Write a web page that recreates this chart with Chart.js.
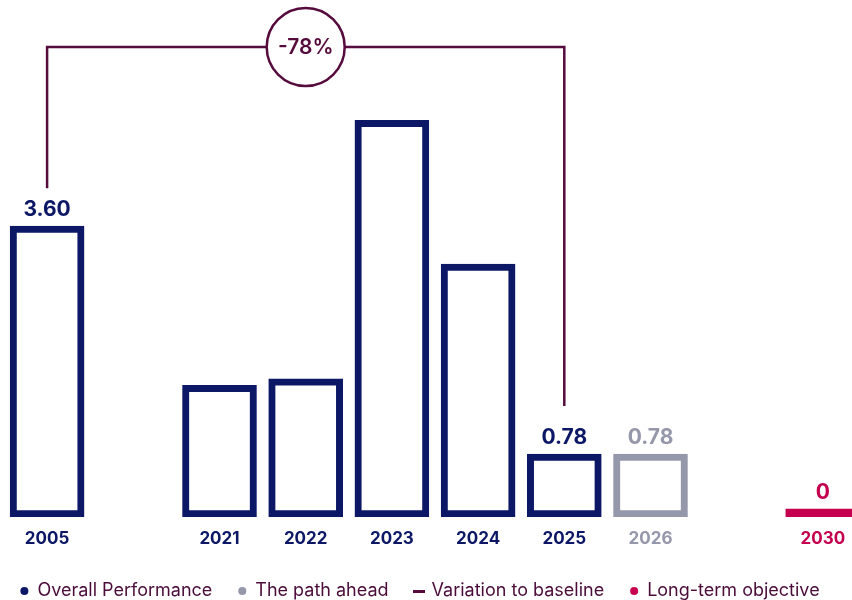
<!DOCTYPE html>
<html>
<head>
<meta charset="utf-8">
<script src="https://cdn.jsdelivr.net/npm/chart.js@4.4.1/dist/chart.umd.min.js"></script>
<style>
  html, body { margin: 0; padding: 0; background: #fff; }
  #wrap { position: relative; width: 852px; height: 600px; overflow: hidden; }
  #chart { position: absolute; left: -26px; top: 0; }
</style>
</head>
<body>
<div id="wrap"><canvas id="chart" width="892" height="600"></canvas></div>
<script>
// empty strings are the spacer slots between 2005 / 2021 and 2026 / 2030
const categories = ['2005', '', '2021', '2022', '2023', '2024', '2025', '2026', '', '2030'];
const overallPerformance = [3.60, null, 1.63, 1.71, 4.91, 3.13, 0.78, null, null, null];
const pathAhead = [null, null, null, null, null, null, null, 0.78, null, null];
const longTermObjective = [null, null, null, null, null, null, null, null, null, 0];
const baselineVariation = [3.60, null, null, null, null, null, 0.78, null, null, null];
const labelledYears = ['2005', '2025', '2026', '2030'];

const NAVY = '#0c1866';
const GREY = '#9597aa';
const CRIMSON = '#c4004f';
const PLUM = '#560b3d';
const TEXT = '#4b0c39';

const tickColors = categories.map((c, i) => {
  if (overallPerformance[i] != null) return NAVY;
  if (pathAhead[i] != null) return GREY;
  if (longTermObjective[i] != null) return CRIMSON;
  return NAVY;
});

Chart.defaults.font.family = 'Inter';

// small dash used as the legend marker of the bracket
const dash = document.createElement('canvas');
dash.width = 12;
dash.height = 3;
const dctx = dash.getContext('2d');
dctx.fillStyle = PLUM;
dctx.fillRect(0, 0, 12, 3);

const valueLabels = {
  id: 'valueLabels',
  afterDatasetsDraw(chart) {
    const ctx = chart.ctx;
    ctx.save();
    ctx.font = '700 21px Inter';
    ctx.textAlign = 'center';
    ctx.textBaseline = 'alphabetic';
    chart.data.datasets.forEach((ds, di) => {
      if (ds.type === 'line') return;
      const meta = chart.getDatasetMeta(di);
      meta.data.forEach((bar, i) => {
        const v = ds.data[i];
        if (v == null || !labelledYears.includes(categories[i])) return;
        ctx.fillStyle = ds.borderWidth ? ds.borderColor : ds.backgroundColor;
        const top = Math.min(bar.y, bar.base);
        ctx.fillText(v === 0 ? '0' : v.toFixed(2), bar.x, top - 10);
      });
    });
    ctx.restore();
  }
};

const variationBracket = {
  id: 'variationBracket',
  afterDatasetsDraw(chart) {
    const di = chart.data.datasets.findIndex(d => d.type === 'line');
    const meta = chart.getDatasetMeta(di);
    const idx = baselineVariation.map((v, i) => (v != null ? i : -1)).filter(i => i >= 0);
    const a = meta.data[idx[0]];
    const b = meta.data[idx[idx.length - 1]];
    const first = baselineVariation[idx[0]];
    const last = baselineVariation[idx[idx.length - 1]];
    const pct = Math.round((last - first) / first * 100);
    const ctx = chart.ctx;
    const lineY = chart.chartArea.top + 47;
    ctx.save();
    ctx.strokeStyle = PLUM;
    ctx.lineWidth = 2.5;
    ctx.beginPath();
    ctx.moveTo(a.x, a.y - 38);
    ctx.lineTo(a.x, lineY);
    ctx.lineTo(b.x, lineY);
    ctx.lineTo(b.x, b.y - 48);
    ctx.stroke();
    const cx = (a.x + b.x) / 2;
    ctx.beginPath();
    ctx.arc(cx, lineY, 39, 0, Math.PI * 2);
    ctx.fillStyle = '#fff';
    ctx.fill();
    ctx.stroke();
    ctx.fillStyle = PLUM;
    ctx.font = '600 21px Inter';
    ctx.textAlign = 'center';
    ctx.textBaseline = 'middle';
    ctx.fillText(pct + '%', cx, lineY + 1);
    ctx.restore();
  }
};

new Chart(document.getElementById('chart'), {
  type: 'bar',
  data: {
    labels: categories,
    datasets: [
      {
        label: 'Overall Performance',
        data: overallPerformance,
        backgroundColor: '#ffffff',
        borderColor: NAVY,
        borderWidth: 7,
        borderSkipped: false,
      },
      {
        label: 'The path ahead',
        data: pathAhead,
        backgroundColor: '#ffffff',
        borderColor: GREY,
        borderWidth: 7,
        borderSkipped: false,
      },
      {
        type: 'line',
        label: 'Variation to baseline',
        data: baselineVariation,
        showLine: false,
        pointRadius: 0,
        pointHoverRadius: 0,
        borderColor: PLUM,
      },
      {
        label: 'Long-term objective',
        data: longTermObjective,
        backgroundColor: CRIMSON,
        borderWidth: 0,
        minBarLength: 8,
      },
    ],
  },
  options: {
    responsive: false,
    animation: false,
    events: [],
    datasets: {
      bar: { grouped: false, barThickness: 74 },
    },
    layout: { padding: { left: 0, right: 0, top: 0, bottom: -10 } },
    scales: {
      x: {
        grid: { display: false, drawTicks: false },
        border: { display: false },
        ticks: {
          padding: 12,
          autoSkip: false,
          maxRotation: 0,
          color: (c) => tickColors[c.index],
          font: { size: 17, weight: '700' },
        },
        afterFit(scale) { scale.height = 39; },
      },
      y: {
        min: 0,
        max: 6.4,
        grid: { display: false },
        border: { display: false },
        ticks: { display: false },
        afterFit(scale) { scale.width = 30; },
      },
    },
    plugins: {
      tooltip: { enabled: false },
      legend: {
        position: 'bottom',
        labels: {
          usePointStyle: true,
          boxWidth: 8,
          boxHeight: 5.7,
          padding: 26,
          color: TEXT,
          font: { size: 18 },
          generateLabels: () => [
            { text: 'Overall Performance', fillStyle: NAVY, strokeStyle: NAVY, lineWidth: 0, pointStyle: 'circle', fontColor: TEXT },
            { text: 'The path ahead', fillStyle: GREY, strokeStyle: GREY, lineWidth: 0, pointStyle: 'circle', fontColor: TEXT },
            { text: 'Variation to baseline', fillStyle: PLUM, strokeStyle: PLUM, lineWidth: 0, pointStyle: dash, fontColor: TEXT },
            { text: 'Long-term objective', fillStyle: CRIMSON, strokeStyle: CRIMSON, lineWidth: 0, pointStyle: 'circle', fontColor: TEXT },
          ],
        },
      },
    },
  },
  plugins: [valueLabels, variationBracket],
});
</script>
</body>
</html>
